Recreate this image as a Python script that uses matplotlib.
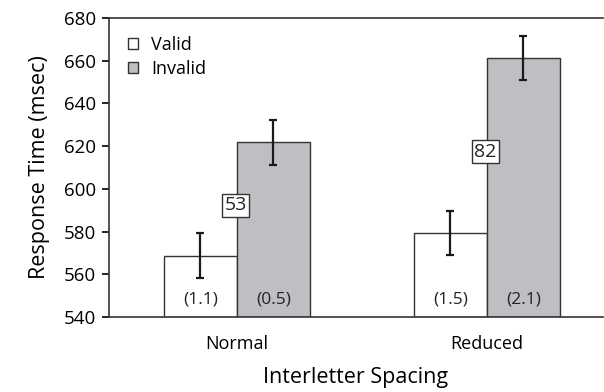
import numpy as np
import matplotlib.pyplot as plt
from matplotlib.patches import Patch

# Data
categories = ["Normal", "Reduced"]
valid = [568.8, 579.4]
invalid = [621.8, 661.4]
valid_err = [10.4, 10.5]
invalid_err = [10.5, 10.4]
valid_sd = ["(1.1)", "(1.5)"]
invalid_sd = ["(0.5)", "(2.1)"]
effects = ["53", "82"]

plt.rcParams['font.family'] = ['Open Sans', 'DejaVu Sans']

fig = plt.figure(figsize=(6.04, 3.92), dpi=100)
ax = fig.add_axes([0.180, 0.191, 0.818, 0.763])

x = np.arange(len(categories))
w = 0.292
edge = '#333333'
gray = '#bebfc3'

ax.bar(x - w / 2, [v - 540 for v in valid], w, bottom=540, color='white',
       edgecolor=edge, linewidth=1.0, zorder=2)
ax.bar(x + w / 2, [v - 540 for v in invalid], w, bottom=540, color=gray,
       edgecolor=edge, linewidth=1.0, zorder=2)
ax.errorbar(x - w / 2, valid, yerr=valid_err, fmt='none', ecolor='#1a1a1a',
            elinewidth=1.6, capsize=3, capthick=1.6, zorder=3)
ax.errorbar(x + w / 2, invalid, yerr=invalid_err, fmt='none', ecolor='#1a1a1a',
            elinewidth=1.6, capsize=3, capthick=1.6, zorder=3)

for i in range(len(categories)):
    ax.text(x[i] - w / 2, 548.4, valid_sd[i], ha='center', va='center', fontsize=12.5, color='#222222')
    ax.text(x[i] + w / 2, 548.4, invalid_sd[i], ha='center', va='center', fontsize=12.5, color='#222222')
    mid = (valid[i] + invalid[i]) / 2 - 3
    ax.text(x[i] - 0.005, mid, effects[i], ha='center', va='center', fontsize=14, color='#222222',
            bbox=dict(boxstyle='square,pad=0.12', facecolor='white', edgecolor='#333333', linewidth=1.0),
            zorder=4)

ax.set_xlim(-0.512, 1.464)
ax.set_ylim(540, 680)
ax.set_yticks(np.arange(540, 681, 20))
ax.set_xticks(x)
ax.set_xticklabels(categories, fontsize=13)
ax.tick_params(axis='x', length=0, pad=13)
ax.tick_params(axis='y', labelsize=13.5, length=5, width=1.2, direction='out', pad=4)
ax.spines['right'].set_visible(False)
for s in ['left', 'bottom', 'top']:
    ax.spines[s].set_linewidth(1.2)
    ax.spines[s].set_color('#333333')
ax.set_ylabel("Response Time (msec)", fontsize=15.5, labelpad=10)
ax.set_xlabel("Interletter Spacing", fontsize=15.5, labelpad=10)

handles = [Patch(facecolor='white', edgecolor=edge, linewidth=1.0, label='Valid'),
           Patch(facecolor=gray, edgecolor=edge, linewidth=1.0, label='Invalid')]
ax.legend(handles=handles, loc='upper left', frameon=False, fontsize=13,
          handlelength=0.55, handleheight=0.55, handletextpad=0.75, labelspacing=0.35,
          bbox_to_anchor=(0.006, 0.995))

fig.savefig("out.png", dpi=100)
